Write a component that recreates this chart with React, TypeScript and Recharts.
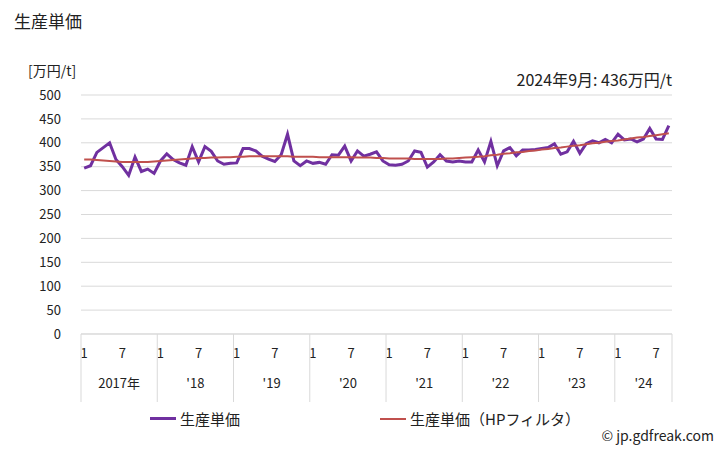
import { LineChart, Line, XAxis, YAxis, CartesianGrid } from "recharts";

const yearLabels = ["2017年", "'18", "'19", "'20", "'21", "'22", "'23", "'24"];
const monthTicks = [1, 7];
const yTicks = [0, 50, 100, 150, 200, 250, 300, 350, 400, 450, 500];

// 生産単価 (万円/t), 2017/1 - 2024/9
const unitPrice = [
	347, 352, 380, 390, 400, 365, 350, 332, 370, 340, 345, 336,
	362, 377, 365, 358, 353, 392, 360, 392, 382, 362, 355, 357,
	358, 388, 388, 383, 372, 366, 361, 375, 418, 362, 352, 362,
	357, 359, 355, 375, 374, 393, 362, 383, 372, 376, 381, 362,
	354, 353, 355, 362, 383, 380, 349, 360, 375, 362, 360, 362,
	360, 360, 385, 360, 403, 352, 383, 390, 373, 385, 385, 386,
	388, 390, 398, 376, 381, 403, 378, 398, 404, 400, 407, 400,
	418, 406, 408, 402, 408, 430, 408, 407, 436,
];

// HPフィルタ
const hpTrend = [
	365, 365, 364, 363, 362, 361, 360, 360, 360, 360, 360, 361,
	362, 363, 364, 365, 366, 367, 368, 368, 369, 369, 370, 370,
	371, 371, 372, 372, 372, 372, 372, 372, 372, 371, 371, 371,
	371, 370, 370, 370, 370, 370, 370, 369, 369, 369, 368, 368,
	367, 367, 367, 367, 366, 366, 366, 366, 366, 367, 367, 368,
	369, 370, 371, 372, 374, 375, 377, 378, 380, 381, 383, 384,
	386, 387, 389, 390, 392, 394, 395, 397, 399, 400, 402, 404,
	405, 407, 409, 411, 412, 414, 416, 418, 420,
];

const data = unitPrice.map((v, i) => ({ i, price: v, hp: hpTrend[i] }));

const W = 728;
const H = 450;
const PLOT_LEFT = 81;
const PLOT_RIGHT = 672;
const PLOT_TOP = 95;
const PLOT_BOTTOM = 334;
const AXIS_BOTTOM = 402;
const BW = (PLOT_RIGHT - PLOT_LEFT) / data.length;
const FONT = "'Noto Sans CJK JP', 'Noto Sans', sans-serif";

function MonthYearTick(props: any) {
	const { x, payload } = props;
	const i = payload.value as number;
	const month = (i % 12) + 1;
	const yIdx = Math.floor(i / 12);
	const start = x - BW / 2;
	const monthsInYear = Math.min(12, data.length - yIdx * 12);
	return (
		<g>
			{monthTicks.includes(month) && (
				<text x={x} y={358} textAnchor="middle" fontSize={13} fill="#222" fontFamily={FONT}>
					{month}
				</text>
			)}
			{month === 1 && (
				<>
					<line x1={start} x2={start} y1={PLOT_BOTTOM} y2={AXIS_BOTTOM} stroke="#d9d9d9" />
					<text
						x={start + (monthsInYear * BW) / 2}
						y={388}
						textAnchor="middle"
						fontSize={13}
						fill="#222"
						fontFamily={FONT}
					>
						{yearLabels[yIdx]}
					</text>
				</>
			)}
			{i === data.length - 1 && (
				<line x1={x + BW / 2} x2={x + BW / 2} y1={PLOT_BOTTOM} y2={AXIS_BOTTOM} stroke="#d9d9d9" />
			)}
		</g>
	);
}

export default function App() {
	const yAxisWidth = 60;
	return (
		<div style={{ position: "absolute", left: 0, top: 0, width: W, height: H, fontFamily: FONT, color: "#222" }}>
			<div style={{ position: "absolute", left: 14, top: 8, fontSize: 17 }}>生産単価</div>
			<div style={{ position: "absolute", left: 28, top: 60, fontSize: 14 }}>[万円/t]</div>
			<div style={{ position: "absolute", right: W - PLOT_RIGHT, top: 67, fontSize: 16 }}>
				2024年9月: 436万円/t
			</div>
			<LineChart
				width={W}
				height={H}
				data={data}
				margin={{
					top: PLOT_TOP,
					right: W - PLOT_RIGHT,
					bottom: H - AXIS_BOTTOM,
					left: PLOT_LEFT - yAxisWidth,
				}}
			>
				<CartesianGrid vertical={false} stroke="#d9d9d9" />
				<XAxis
					dataKey="i"
					scale="band"
					interval={0}
					axisLine={{ stroke: "#d9d9d9" }}
					tickLine={false}
					height={AXIS_BOTTOM - PLOT_BOTTOM}
					tick={<MonthYearTick />}
				/>
				<YAxis
					width={yAxisWidth}
					domain={[0, 500]}
					ticks={yTicks}
					interval={0}
					axisLine={false}
					tickLine={false}
					tickMargin={14}
					tick={{ fontSize: 13, fill: "#222", fontFamily: FONT }}
				/>
				<Line
					dataKey="price"
					stroke="#7030a0"
					strokeWidth={3}
					dot={false}
					isAnimationActive={false}
				/>
				<Line dataKey="hp" stroke="#c0504d" strokeWidth={2} dot={false} isAnimationActive={false} />
			</LineChart>
			<div style={{ position: "absolute", left: 150, top: 408, display: "flex", alignItems: "center", fontSize: 15 }}>
				<span style={{ display: "inline-block", width: 26, height: 3, background: "#7030a0", marginRight: 4 }} />
				生産単価
			</div>
			<div style={{ position: "absolute", left: 380, top: 408, display: "flex", alignItems: "center", fontSize: 15 }}>
				<span style={{ display: "inline-block", width: 26, height: 2, background: "#c0504d", marginRight: 4 }} />
				生産単価（HPフィルタ）
			</div>
			<div style={{ position: "absolute", right: 14, top: 425, fontSize: 14 }}>© jp.gdfreak.com</div>
		</div>
	);
}
